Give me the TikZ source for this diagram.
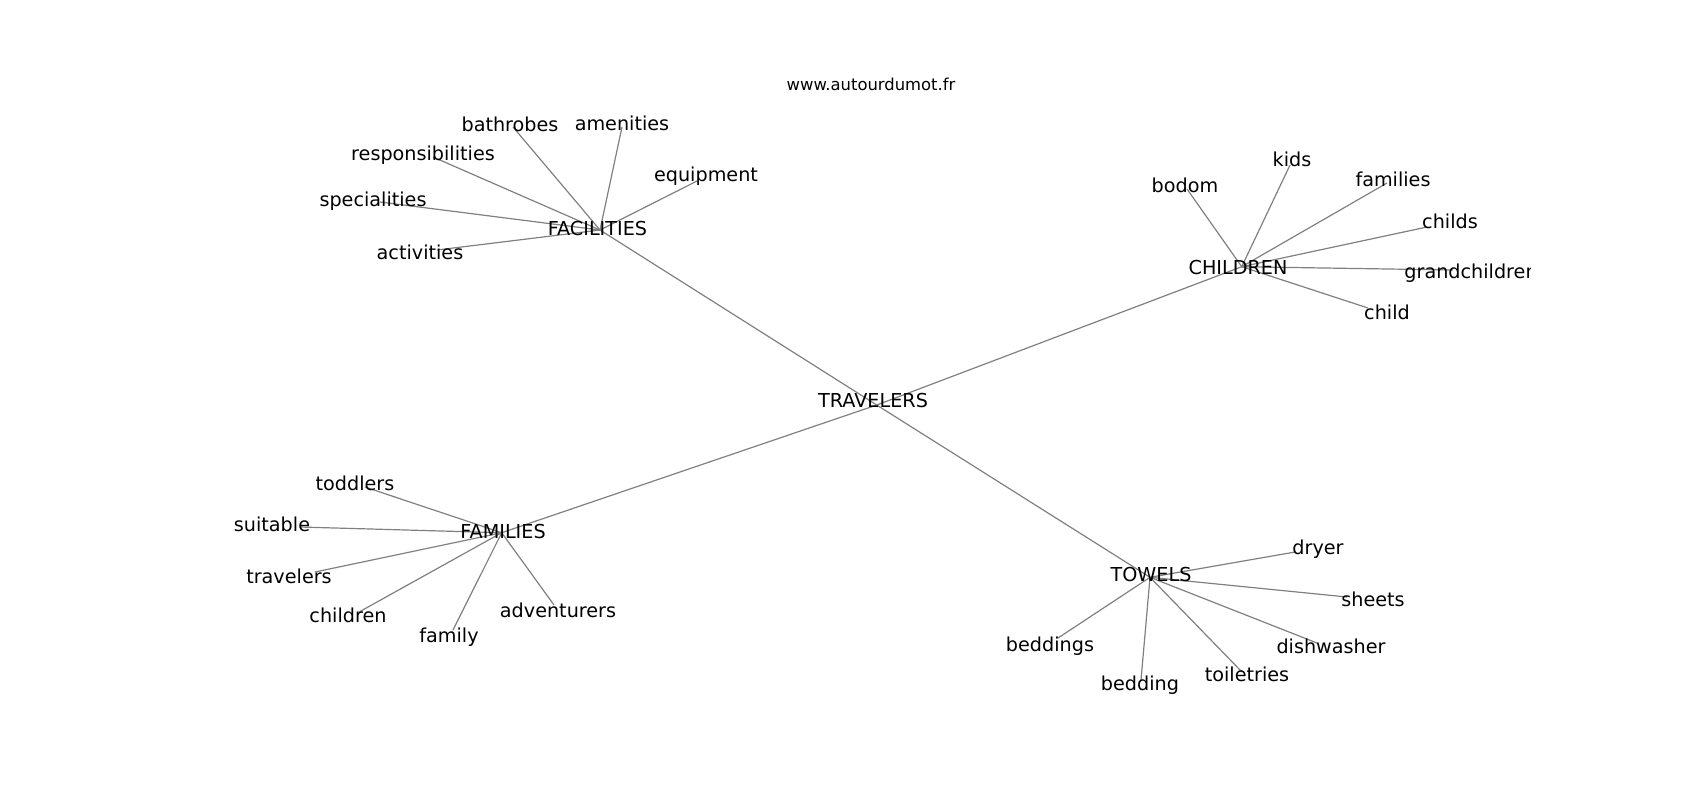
\documentclass[tikz,border=0pt]{standalone}
\usepackage{fontspec}
\setmainfont{DejaVu Sans}

\tikzset{
  word/.style={inner sep=0pt, text height=0.73em, text depth=0.24em,
    yshift=-1.5pt, font=\fontsize{9.6}{11}\selectfont},
  link/.style={draw=black!50, line width=0.6pt}
}

\begin{document}
\begin{tikzpicture}[x=0.5pt, y=-0.5pt]
\useasboundingbox (0,0) rectangle (1700,800);
\clip (0,0) rectangle (1530,800);

%graph positions
\coordinate (trav) at (876.7,405);
\coordinate (fac) at (600,230);
\coordinate (chi) at (1241.7,266.7);
\coordinate (fam) at (501.7,532.7);
\coordinate (tow) at (1150,577.3);
%facilities
\coordinate (bathrobes) at (513,127);
\coordinate (amenities) at (622,127);
\coordinate (equipment) at (697,181);
\coordinate (responsibilities) at (433,157);
\coordinate (specialities) at (380,202);
\coordinate (activities) at (437,250);
%children
\coordinate (bodom) at (1187,189);
\coordinate (kids) at (1290,165);
\coordinate (families) at (1387,183);
\coordinate (childs) at (1427,227);
\coordinate (grandchildren) at (1453,270);
\coordinate (child) at (1368,308);
%families
\coordinate (toddlers) at (365,487);
\coordinate (suitable) at (300,527);
\coordinate (travelers) at (315,572);
\coordinate (children) at (359,612);
\coordinate (family) at (453,630);
\coordinate (adventurers) at (554,605);
%towels
\coordinate (dryer) at (1295,552);
\coordinate (sheets) at (1347,597);
\coordinate (dishwasher) at (1317,643);
\coordinate (toiletries) at (1242,672);
\coordinate (bedding) at (1141,680);
\coordinate (beddings) at (1058,638);

%edges
\draw[link] (trav) -- (fac);
\draw[link] (trav) -- (chi);
\draw[link] (trav) -- (fam);
\draw[link] (trav) -- (tow);
\foreach \w in {bathrobes,amenities,equipment,responsibilities,specialities,activities}
  \draw[link] (fac) -- (\w);
\foreach \w in {bodom,kids,families,childs,grandchildren,child}
  \draw[link] (chi) -- (\w);
\foreach \w in {toddlers,suitable,travelers,children,family,adventurers}
  \draw[link] (fam) -- (\w);
\foreach \w in {dryer,sheets,dishwasher,toiletries,bedding,beddings}
  \draw[link] (tow) -- (\w);

%title
\node[word, font=\fontsize{8.2}{10}\selectfont] (site) at (871,83) {www.autourdumot.fr};

%hub labels
\node[word] (ltrav) at (873,400) {TRAVELERS};
\node[word] (lfac) at (597.5,228) {FACILITIES};
\node[word] (lchi) at (1238,267) {CHILDREN};
\node[word] (lfam) at (503,531) {FAMILIES};
\node[word] (ltow) at (1151,574) {TOWELS};

%leaf labels
\node[word] (lbathrobes) at (510,124) {bathrobes};
\node[word] (lamenities) at (622,123) {amenities};
\node[word] (lequipment) at (706,174) {equipment};
\node[word] (lresponsibilities) at (423,153) {responsibilities};
\node[word] (lspecialities) at (373,199) {specialities};
\node[word] (lactivities) at (420,252) {activities};

\node[word] (lbodom) at (1185,185) {bodom};
\node[word] (lkids) at (1292,159) {kids};
\node[word] (lfamilies) at (1393,179) {families};
\node[word] (lchilds) at (1450,221) {childs};
\node[word, anchor=west] (lgrandchildren) at (1404,271) {grandchildren};
\node[word] (lchild) at (1387,312) {child};

\node[word] (ltoddlers) at (355,483) {toddlers};
\node[word] (lsuitable) at (272,524) {suitable};
\node[word] (ltravelers) at (289,576) {travelers};
\node[word] (lchildren) at (348,615) {children};
\node[word] (lfamily) at (449,635) {family};
\node[word] (ladventurers) at (558,610) {adventurers};

\node[word] (ldryer) at (1318,547) {dryer};
\node[word] (lsheets) at (1373,599) {sheets};
\node[word] (ldishwasher) at (1331,646) {dishwasher};
\node[word] (ltoiletries) at (1247,674) {toiletries};
\node[word] (lbedding) at (1140,683) {bedding};
\node[word] (lbeddings) at (1050,644) {beddings};

\end{tikzpicture}
\end{document}
